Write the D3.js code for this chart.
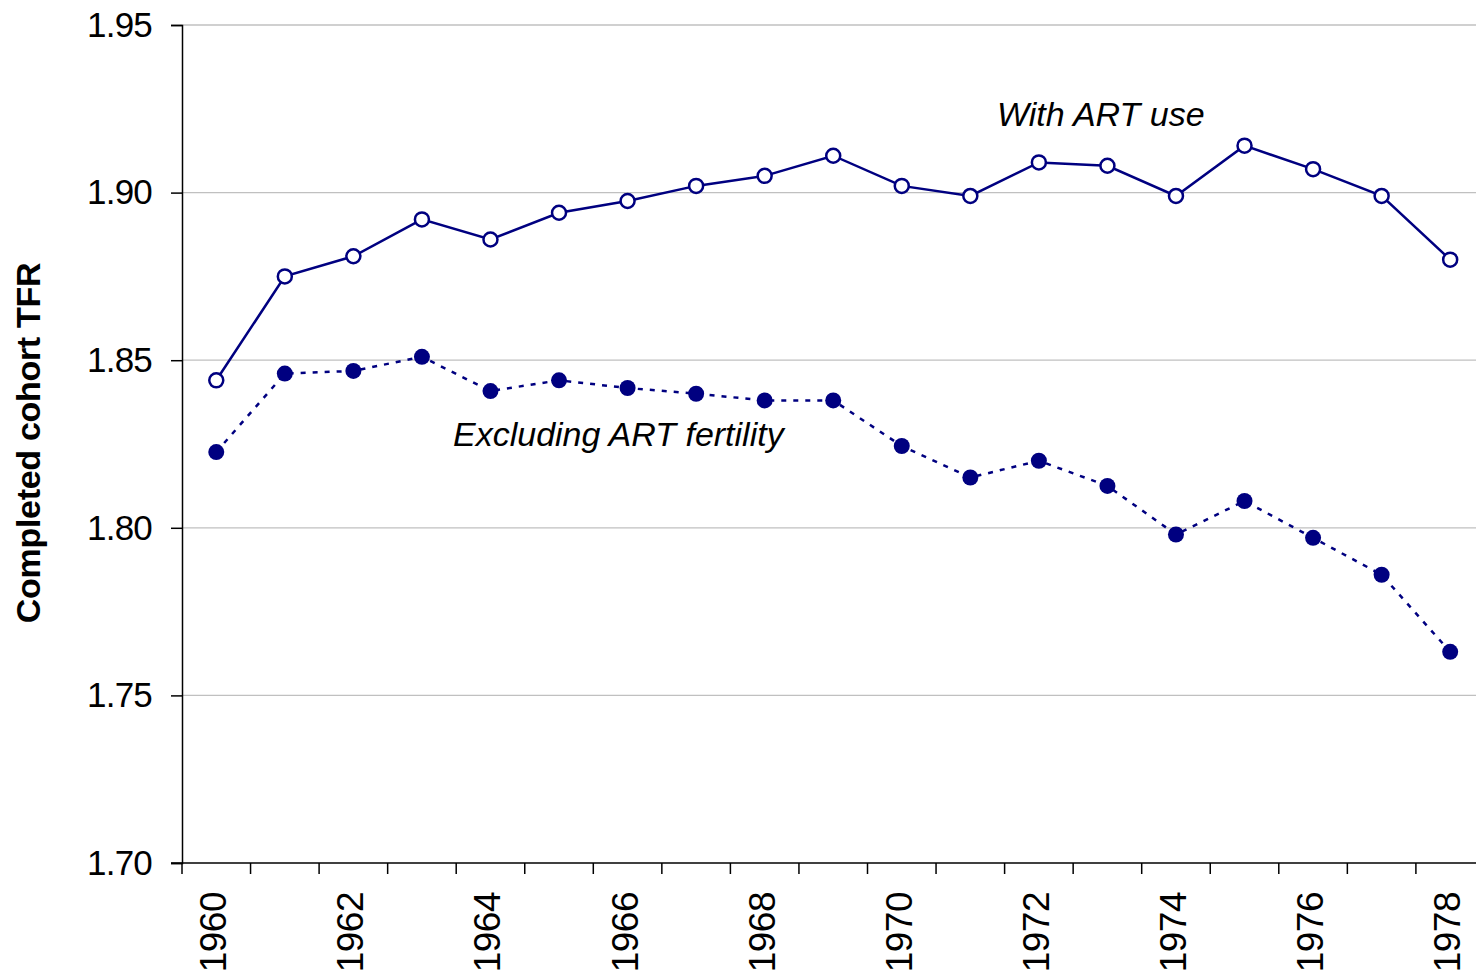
<!DOCTYPE html>
<html>
  <head>
    <meta charset="UTF-8" />
    <style>
      body { margin: 0; background: #fff; }
      text { font-family: Arial, "Liberation Sans", sans-serif; }
    </style>
  </head>
  <body>
    <svg></svg>
    <script src="https://d3js.org/d3.v7.min.js"></script>
    <script>
      // cohort years and the two series
      let years = [1960, 1961, 1962, 1963, 1964, 1965, 1966, 1967, 1968, 1969,
        1970, 1971, 1972, 1973, 1974, 1975, 1976, 1977, 1978];
      let withArt = [1.844, 1.875, 1.881, 1.892, 1.886, 1.894, 1.8975, 1.902, 1.905, 1.911,
        1.902, 1.899, 1.909, 1.908, 1.899, 1.914, 1.907, 1.899, 1.880];
      let excludingArt = [1.8226, 1.846, 1.8468, 1.851, 1.8408, 1.844, 1.8417, 1.840, 1.838, 1.838,
        1.8244, 1.815, 1.820, 1.8125, 1.798, 1.808, 1.797, 1.786, 1.763];
      let yTicks = [1.70, 1.75, 1.80, 1.85, 1.90, 1.95];

      let width = 1476,
        height = 973;
      let plotLeft = 182, plotTop = 25, plotBottom = 863;
      let plotRight = plotLeft + 68.55 * years.length;
      let navy = "#000080";

      let svg = d3.select("svg").attr("width", width).attr("height", height);

      let x = d3.scaleBand().domain(years).range([plotLeft, plotRight]);
      let y = d3.scaleLinear().domain([1.70, 1.95]).range([plotBottom, plotTop]);

      // gridlines
      svg.append("g")
        .selectAll("line")
        .data(yTicks.filter((d) => d > 1.70))
        .join("line")
        .attr("x1", plotLeft)
        .attr("x2", width)
        .attr("y1", (d) => y(d))
        .attr("y2", (d) => y(d))
        .attr("stroke", "#c0c0c0")
        .attr("stroke-width", 1.3);

      // y axis
      let yAxis = svg.append("g")
        .attr("transform", `translate(${plotLeft},0)`)
        .call(d3.axisLeft(y).tickValues(yTicks).tickFormat(d3.format(".2f")).tickSize(11).tickPadding(19));
      yAxis.select(".domain").attr("stroke", "#000").attr("stroke-width", 1.5);
      yAxis.selectAll(".tick line").attr("stroke", "#000").attr("stroke-width", 1.5);
      yAxis.selectAll(".tick text")
        .attr("font-size", 35)
        .attr("fill", "#000")
        .style("font-family", "Arial, 'Liberation Sans', sans-serif")
        .attr("letter-spacing", -0.8);

      // x axis: ticks at category boundaries
      let xg = svg.append("g");
      xg.append("line")
        .attr("x1", plotLeft - 11).attr("x2", width)
        .attr("y1", plotBottom).attr("y2", plotBottom)
        .attr("stroke", "#000").attr("stroke-width", 1.5);
      xg.selectAll(".xtick")
        .data(years)
        .join("line")
        .attr("class", "xtick")
        .attr("x1", (d) => x(d)).attr("x2", (d) => x(d))
        .attr("y1", plotBottom).attr("y2", plotBottom + 11)
        .attr("stroke", "#000").attr("stroke-width", 1.5);
      xg.selectAll(".xlabel")
        .data(years.filter((d) => d % 2 === 0))
        .join("text")
        .attr("class", "xlabel")
        .attr("transform", (d) => `translate(${x(d) + x.bandwidth() / 2 + 10},892) rotate(-90)`)
        .attr("text-anchor", "end")
        .attr("font-size", 37)
        .attr("letter-spacing", -0.5)
        .text((d) => d);

      // y title
      svg.append("text")
        .attr("transform", "translate(40,443) rotate(-90)")
        .attr("text-anchor", "middle")
        .attr("font-size", 34)
        .attr("font-weight", "bold")
        .attr("letter-spacing", -0.3)
        .text("Completed cohort TFR");

      let cx = (i) => x(years[i]) + x.bandwidth() / 2;
      let line = d3.line().x((d, i) => cx(i)).y((d) => y(d));

      // excluding ART fertility: dashed, filled dots
      svg.append("path")
        .datum(excludingArt)
        .attr("d", line)
        .attr("fill", "none")
        .attr("stroke", navy)
        .attr("stroke-width", 2.5)
        .attr("stroke-dasharray", "5,7");
      svg.append("g")
        .selectAll("circle")
        .data(excludingArt)
        .join("circle")
        .attr("cx", (d, i) => cx(i))
        .attr("cy", (d) => y(d))
        .attr("r", 8)
        .attr("fill", navy);

      // with ART use: solid, open dots
      svg.append("path")
        .datum(withArt)
        .attr("d", line)
        .attr("fill", "none")
        .attr("stroke", navy)
        .attr("stroke-width", 2.5);
      svg.append("g")
        .selectAll("circle")
        .data(withArt)
        .join("circle")
        .attr("cx", (d, i) => cx(i))
        .attr("cy", (d) => y(d))
        .attr("r", 7)
        .attr("fill", "#fff")
        .attr("stroke", navy)
        .attr("stroke-width", 2.5);

      // series labels
      svg.append("text")
        .attr("x", 997).attr("y", 126)
        .attr("font-size", 34)
        .attr("font-style", "italic")
        .text("With ART use");
      svg.append("text")
        .attr("x", 453).attr("y", 446)
        .attr("font-size", 34)
        .attr("font-style", "italic")
        .text("Excluding ART fertility");
    </script>
  </body>
</html>
